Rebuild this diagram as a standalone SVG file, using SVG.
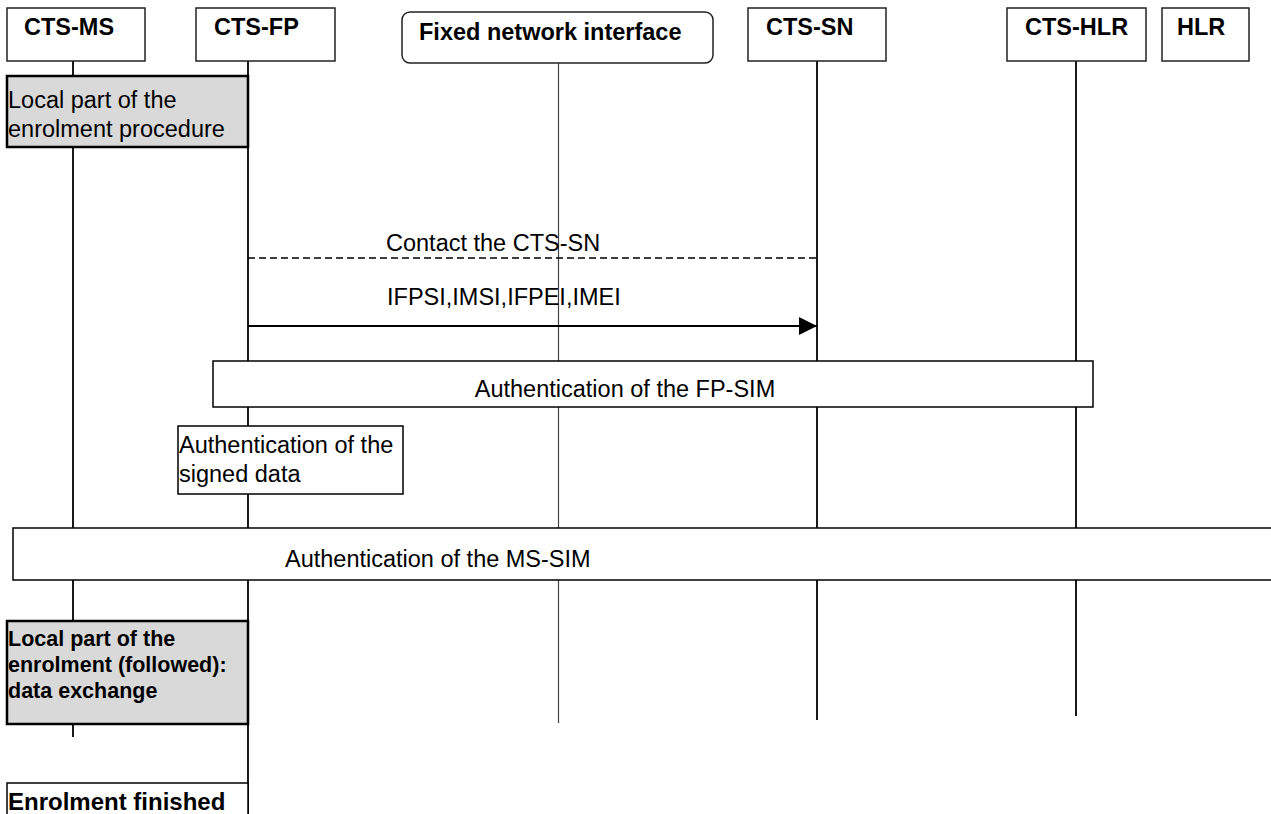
<svg xmlns="http://www.w3.org/2000/svg" width="1271" height="814" viewBox="0 0 1271 814">
<style>
text{font-family:"Liberation Sans",Arial,sans-serif;fill:#000}
.h{font-size:23.5px;font-weight:bold}
.t{font-size:23.5px}
.b{font-size:21.5px;font-weight:bold}
.hb{fill:#fff;stroke:#222;stroke-width:1.5}
.life{stroke:#000;stroke-width:1.8;fill:none}
.box{fill:#fff;stroke:#000;stroke-width:1.5}
.grey{fill:#d9d9d9;stroke:#000;stroke-width:2.5}
</style>
<defs>
<marker id="arr" markerWidth="18" markerHeight="18" refX="18" refY="9" orient="auto" markerUnits="userSpaceOnUse">
<path d="M0,0 L18,9 L0,18 Z" fill="#000"/>
</marker>
</defs>
<g id="lifelines">
<line class="life" x1="73" y1="61" x2="73" y2="737"/>
<line class="life" x1="248" y1="61" x2="248" y2="814"/>
<line x1="558.5" y1="63" x2="558.5" y2="723" stroke="#444" stroke-width="1.2"/>
<line class="life" x1="817" y1="61" x2="817" y2="720"/>
<line class="life" x1="1076" y1="61" x2="1076" y2="716"/>
</g>
<g id="CTS-MS"><rect class="hb" x="7" y="8" width="138" height="53"/><text class="h" x="24" y="35">CTS-MS</text></g>
<g id="CTS-FP"><rect class="hb" x="196" y="8" width="139" height="53"/><text class="h" x="214" y="35">CTS-FP</text></g>
<g id="FNI"><rect class="hb" x="402" y="12" width="311" height="51" rx="8"/><text class="h" x="419" y="40">Fixed network interface</text></g>
<g id="CTS-SN"><rect class="hb" x="748" y="8" width="138" height="53"/><text class="h" x="766" y="35">CTS-SN</text></g>
<g id="CTS-HLR"><rect class="hb" x="1007" y="8" width="139" height="53"/><text class="h" x="1025" y="35">CTS-HLR</text></g>
<g id="HLR"><rect class="hb" x="1162" y="8" width="87" height="53" stroke-width="2"/><text class="h" x="1177" y="35">HLR</text></g>
<g id="connectors">
<line x1="248" y1="258" x2="817" y2="258" stroke="#000" stroke-width="1.5" stroke-dasharray="7,4"/>
<text class="t" x="386" y="251">Contact the CTS-SN</text>
<line x1="248" y1="326" x2="817" y2="326" stroke="#000" stroke-width="1.8" marker-end="url(#arr)"/>
<text class="t" x="387" y="305">IFPSI,IMSI,IFPEI,IMEI</text>
</g>
<g id="local1"><rect class="grey" x="7" y="76" width="241" height="71"/><text class="t" x="8" y="108">Local part of the</text><text class="t" x="8" y="137">enrolment procedure</text></g>
<g id="authFP"><rect class="box" x="213" y="361" width="880" height="46"/><text class="t" x="625" y="397" text-anchor="middle">Authentication of the FP-SIM</text></g>
<g id="authSigned"><rect class="box" x="178" y="426" width="225" height="68" stroke-width="2.5"/><text class="t" x="179" y="453">Authentication of the</text><text class="t" x="179" y="482">signed data</text></g>
<g id="authMS"><rect class="box" x="13" y="528" width="1270" height="52" stroke="#444"/><text class="t" x="285" y="567">Authentication of the MS-SIM</text></g>
<g id="local2"><rect class="grey" x="7" y="621" width="241" height="103"/><text class="b" x="8" y="646">Local part of the</text><text class="b" x="8" y="672">enrolment (followed):</text><text class="b" x="8" y="698">data exchange</text></g>
<g id="finished"><rect class="box" x="7" y="783" width="241" height="40" stroke-width="2.5"/><text class="h" x="8" y="810" style="font-size:24px">Enrolment finished</text></g>
</svg>
